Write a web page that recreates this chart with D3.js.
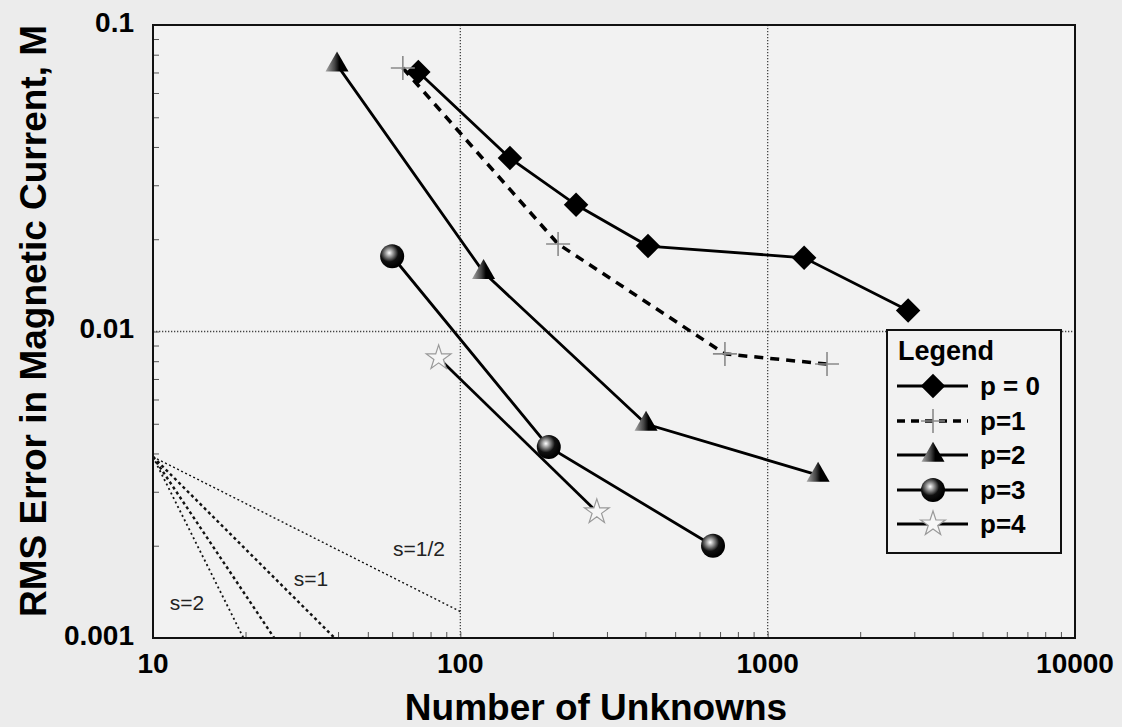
<!DOCTYPE html>
<html>
<head>
<meta charset="utf-8">
<script src="https://cdn.jsdelivr.net/npm/d3@7"></script>
<style>
body { margin: 0; background: #ececec; }
text { font-family: "Liberation Sans", Arial, sans-serif; }
</style>
</head>
<body>
<div id="chart"></div>
<script>
// data
var unknownsP0 = [73, 145, 238, 408, 1314, 2864],
    errorP0    = [0.0703, 0.0368, 0.0259, 0.019, 0.0174, 0.0117];
var unknownsP1 = [65, 208, 726, 1560],
    errorP1    = [0.0724, 0.0193, 0.00845, 0.00783];
var unknownsP2 = [39.7, 119, 402, 1459],
    errorP2    = [0.0741, 0.0156, 0.00499, 0.0034];
var unknownsP3 = [60, 194, 664],
    errorP3    = [0.0176, 0.0042, 0.002];
var unknownsP4 = [85, 278],
    errorP4    = [0.0082, 0.00258];

var seriesNames = ["p = 0", "p=1", "p=2", "p=3", "p=4"];

// reference slope lines: [start, end] in data units
var slopeNames = ["s=1/2", "s=1", "", "s=2"];
var slopeX = [[10, 100], [10, 39], [10, 24.8], [10, 19.7]];
var slopeY = [[0.0039, 0.00122], [0.0039, 0.001], [0.0039, 0.001], [0.0039, 0.001]];

var xTickLabels = [10, 100, 1000, 10000];
var yTickLabels = [0.001, 0.01, 0.1];
var xGrid = [100, 1000];
var yGrid = [0.01];

var margin = {top: 25, right: 47, bottom: 89, left: 153};
var width = 1122 - margin.left - margin.right;
var height = 727 - margin.top - margin.bottom;

var xScale = d3.scaleLog().domain([10, 10000]).range([0, width]),
    yScale = d3.scaleLog().domain([0.001, 0.1]).range([height, 0]);

var svg = d3.select("#chart").append("svg")
    .attr("width", 1122)
    .attr("height", 727);

var defs = svg.append("defs");
var sph = defs.append("radialGradient").attr("id", "sphere")
    .attr("cx", "38%").attr("cy", "36%").attr("r", "62%");
sph.append("stop").attr("offset", "0%").attr("stop-color", "#ffffff");
sph.append("stop").attr("offset", "25%").attr("stop-color", "#9a9a9a");
sph.append("stop").attr("offset", "60%").attr("stop-color", "#111");
sph.append("stop").attr("offset", "100%").attr("stop-color", "#000");
var tri = defs.append("linearGradient").attr("id", "tri")
    .attr("x1", "0%").attr("x2", "100%").attr("y1", "0%").attr("y2", "0%");
tri.append("stop").attr("offset", "0%").attr("stop-color", "#aaa");
tri.append("stop").attr("offset", "40%").attr("stop-color", "#444");
tri.append("stop").attr("offset", "60%").attr("stop-color", "#000");

var g = svg.append("g")
    .attr("transform", "translate(" + margin.left + "," + margin.top + ")");

g.append("rect")
  .attr("width", width).attr("height", height)
  .attr("fill", "#f2f2f2");

// grid
g.selectAll(".xgrid").data(xGrid).enter().append("line")
  .attr("x1", function(d) { return xScale(d); })
  .attr("x2", function(d) { return xScale(d); })
  .attr("y1", 0).attr("y2", height)
  .attr("stroke", "#444").attr("stroke-width", 1.3).attr("stroke-dasharray", "1.3,1.7");
g.selectAll(".ygrid").data(yGrid).enter().append("line")
  .attr("y1", function(d) { return yScale(d); })
  .attr("y2", function(d) { return yScale(d); })
  .attr("x1", 0).attr("x2", width)
  .attr("stroke", "#444").attr("stroke-width", 1.3).attr("stroke-dasharray", "1.3,1.7");

// minor ticks (inside)
var xAxis = d3.axisBottom(xScale).tickSize(-6).tickFormat("");
var yAxis = d3.axisLeft(yScale).tickSize(-6).tickFormat("");
g.append("g").attr("transform", "translate(0," + height + ")").call(xAxis)
  .call(function(s) { s.select(".domain").remove(); s.selectAll("line").attr("stroke", "#555"); });
g.append("g").call(yAxis)
  .call(function(s) { s.select(".domain").remove(); s.selectAll("line").attr("stroke", "#555"); });

// slope reference lines
var slopeStyles = [
  {w: 1.4, dash: "2,2.5"},
  {w: 2.4, dash: "3,3"},
  {w: 2.4, dash: "3,3"},
  {w: 1.8, dash: "2,3"}
];
slopeX.forEach(function(xs, i) {
  g.append("line")
    .attr("x1", xScale(xs[0])).attr("y1", yScale(slopeY[i][0]))
    .attr("x2", xScale(xs[1])).attr("y2", yScale(slopeY[i][1]))
    .attr("stroke", "#111")
    .attr("stroke-width", slopeStyles[i].w)
    .attr("stroke-dasharray", slopeStyles[i].dash);
});
var slopeLabelPos = [[266, 524], [158, 554], null, [34, 578]];
slopeNames.forEach(function(n, i) {
  if (!n) return;
  g.append("text")
    .attr("x", slopeLabelPos[i][0]).attr("y", slopeLabelPos[i][1])
    .attr("text-anchor", "middle").attr("dy", "0.35em")
    .style("font-size", "21px").attr("fill", "#222")
    .text(n);
});

// markers
function marker(sel, type, x, y) {
  if (type == 0) {
    sel.append("path").attr("d", d3.symbol(d3.symbolSquare, 300)())
      .attr("transform", "translate(" + x + "," + y + ") rotate(45)")
      .attr("fill", "#000");
  } else if (type == 1) {
    sel.append("path").attr("d", "M-12,0H12M0,-12V12")
      .attr("transform", "translate(" + x + "," + y + ")")
      .attr("stroke", "#8a8a8a").attr("stroke-width", 1.6).attr("fill", "none");
  } else if (type == 2) {
    sel.append("path").attr("d", d3.symbol(d3.symbolTriangle, 230)())
      .attr("transform", "translate(" + x + "," + y + ")")
      .attr("fill", "url(#tri)");
  } else if (type == 3) {
    sel.append("circle").attr("cx", x).attr("cy", y).attr("r", 12)
      .attr("fill", "url(#sphere)");
  } else {
    sel.append("path").attr("d", d3.symbol(d3.symbolStar, 190)())
      .attr("transform", "translate(" + x + "," + y + ")")
      .attr("fill", "#f6f6f6").attr("stroke", "#999").attr("stroke-width", 1.2);
  }
}

var allX = [unknownsP0, unknownsP1, unknownsP2, unknownsP3, unknownsP4];
var allY = [errorP0, errorP1, errorP2, errorP3, errorP4];

var line = d3.line()
  .x(function(d) { return xScale(d[0]); })
  .y(function(d) { return yScale(d[1]); });

allX.forEach(function(xs, s) {
  var pts = xs.map(function(x, i) { return [x, allY[s][i]]; });
  g.append("path").datum(pts)
    .attr("d", line)
    .attr("fill", "none")
    .attr("stroke", "#000")
    .attr("stroke-width", s == 1 ? 3.5 : 2.8)
    .attr("stroke-dasharray", s == 1 ? "9,7" : null);
});
allX.forEach(function(xs, s) {
  xs.forEach(function(x, i) { marker(g, s, xScale(x), yScale(allY[s][i])); });
});

// frame
g.append("rect")
  .attr("width", width).attr("height", height)
  .attr("fill", "none").attr("stroke", "#111").attr("stroke-width", 2);

// tick labels
g.selectAll(".xl").data(xTickLabels).enter().append("text")
  .attr("x", function(d) { return xScale(d); })
  .attr("y", height + 25)
  .attr("dy", "0.35em").attr("text-anchor", "middle")
  .style("font-size", "28px").style("font-weight", "bold")
  .text(function(d) { return d; });
g.selectAll(".yl").data(yTickLabels).enter().append("text")
  .attr("x", -19)
  .attr("y", function(d) { return yScale(d) - 3; })
  .attr("dy", "0.35em").attr("text-anchor", "end")
  .style("font-size", "28px").style("font-weight", "bold")
  .text(function(d) { return d; });

// axis titles
svg.append("text")
  .attr("x", 596).attr("y", 720)
  .attr("text-anchor", "middle")
  .style("font-size", "37px").style("font-weight", "bold")
  .text("Number of Unknowns");
svg.append("text")
  .attr("transform", "translate(46,321) rotate(-90)")
  .attr("text-anchor", "middle")
  .style("font-size", "37px").style("font-weight", "bold")
  .text("RMS Error in Magnetic Current, M");

// legend
var lg = svg.append("g").attr("transform", "translate(887,330)");
lg.append("rect").attr("width", 174).attr("height", 223)
  .attr("fill", "#f2f2f2").attr("stroke", "#111").attr("stroke-width", 2);
lg.append("text").attr("x", 11).attr("y", 30)
  .style("font-size", "27px").style("font-weight", "bold")
  .text("Legend");
var rowY = [56, 91, 125, 160, 194];
seriesNames.forEach(function(n, i) {
  lg.append("line").attr("x1", 10).attr("x2", 81)
    .attr("y1", rowY[i]).attr("y2", rowY[i])
    .attr("stroke", "#000").attr("stroke-width", i == 1 ? 3.5 : 3)
    .attr("stroke-dasharray", i == 1 ? "8,6" : null);
  marker(lg, i, 46, rowY[i]);
  lg.append("text").attr("x", 93).attr("y", rowY[i])
    .attr("dy", "0.35em")
    .style("font-size", "26px").style("font-weight", "bold")
    .text(n);
});
</script>
</body>
</html>
